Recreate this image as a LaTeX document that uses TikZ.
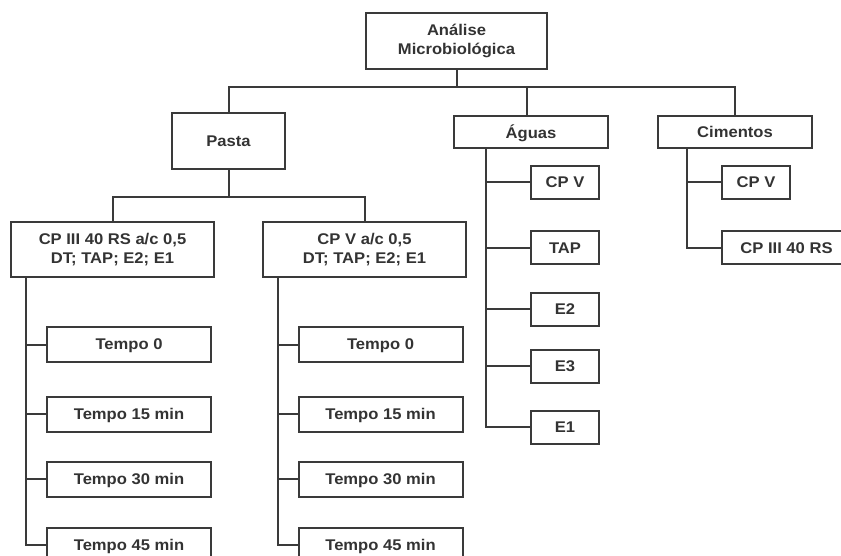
\documentclass[tikz,border=0pt]{standalone}
\usepackage{fontspec}
\setmainfont{Liberation Sans}[FakeStretch=1.07]
\definecolor{ink}{HTML}{3A3A3A}
\definecolor{txt}{HTML}{333333}
\begin{document}
\begin{tikzpicture}[x=1pt,y=-1pt,
  box/.style={draw=ink, line width=2pt, rectangle, inner sep=0pt, align=center,
    text=txt, font=\fontsize{15.5}{19}\selectfont\bfseries},
  sbox/.style={box, text depth=0pt},
  conn/.style={draw=ink, line width=2pt}]
\useasboundingbox (0,0) rectangle (841,556);
% level 0/1
\node[box, minimum width=181, minimum height=56] (root) at (456.5,41) {Análise\\Microbiológica};
\node[sbox, minimum width=113, minimum height=56] (pasta) at (228.5,141) {Pasta};
\node[sbox, minimum width=154, minimum height=32] (aguas) at (531,132) {Águas};
\node[sbox, minimum width=154, minimum height=32] (cim) at (735,132) {Cimentos};
\coordinate (bus) at (0,87);
\draw[conn] (pasta.north) -- (pasta.north |- bus) -- (cim.north |- bus) -- (cim.north);
\draw[conn] (root.south) -- (root.south |- bus);
\draw[conn] ([xshift=-4pt]aguas.north) -- ([xshift=-4pt]aguas.north |- bus);
% pasta children
\node[box, minimum width=203, minimum height=55] (p1) at (112.5,249.5) {CP III 40 RS a/c 0,5\\DT; TAP; E2; E1};
\node[box, minimum width=203, minimum height=55] (p2) at (364.5,249.5) {CP V a/c 0,5\\DT; TAP; E2; E1};
\coordinate (pbus) at (0,197);
\draw[conn] (pasta.south) -- (pasta.south |- pbus);
\draw[conn] (p1.north) -- (p1.north |- pbus) -- (p2.north |- pbus) -- (p2.north);
% tempo column 1
\coordinate (v1) at (26,0);
\node[sbox, minimum width=164, minimum height=35] (a0) at (129,344.5) {Tempo 0};
\node[sbox, minimum width=164, minimum height=35] (a15) at (129,414) {Tempo 15 min};
\node[sbox, minimum width=164, minimum height=35] (a30) at (129,479) {Tempo 30 min};
\node[sbox, minimum width=164, minimum height=35] (a45) at (129,545) {Tempo 45 min};
\draw[conn] (v1 |- p1.south) -- (v1 |- a45.west) -- (a45.west);
\foreach \n in {a0,a15,a30} \draw[conn] (v1 |- \n.west) -- (\n.west);
% tempo column 2
\coordinate (v2) at (278,0);
\node[sbox, minimum width=164, minimum height=35] (b0) at (380.5,344.5) {Tempo 0};
\node[sbox, minimum width=164, minimum height=35] (b15) at (380.5,414) {Tempo 15 min};
\node[sbox, minimum width=164, minimum height=35] (b30) at (380.5,479) {Tempo 30 min};
\node[sbox, minimum width=164, minimum height=35] (b45) at (380.5,545) {Tempo 45 min};
\draw[conn] (v2 |- p2.south) -- (v2 |- b45.west) -- (b45.west);
\foreach \n in {b0,b15,b30} \draw[conn] (v2 |- \n.west) -- (\n.west);
% aguas children
\coordinate (v3) at (486,0);
\node[sbox, minimum width=68, minimum height=33] (w1) at (565,182.5) {CP V};
\node[sbox, minimum width=68, minimum height=33] (w2) at (565,248) {TAP};
\node[sbox, minimum width=68, minimum height=33] (w3) at (565,309) {E2};
\node[sbox, minimum width=68, minimum height=33] (w4) at (565,366) {E3};
\node[sbox, minimum width=68, minimum height=33] (w5) at (565,427) {E1};
\draw[conn] (v3 |- aguas.south) -- (v3 |- w5.west) -- (w5.west);
\foreach \n in {w1,w2,w3,w4} \draw[conn] (v3 |- \n.west) -- (\n.west);
% cimentos children
\coordinate (v4) at (687,0);
\node[sbox, minimum width=68, minimum height=33] (c1) at (756,182.5) {CP V};
\node[sbox, minimum width=129, minimum height=33] (c2) at (786.5,248) {CP III 40 RS};
\draw[conn] (v4 |- cim.south) -- (v4 |- c2.west) -- (c2.west);
\draw[conn] (v4 |- c1.west) -- (c1.west);
\end{tikzpicture}
\end{document}
